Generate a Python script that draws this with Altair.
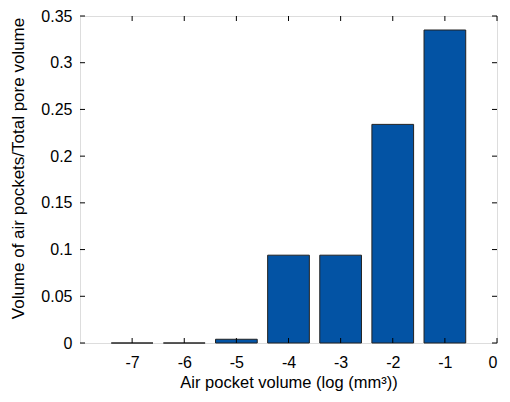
import altair as alt
import pandas as pd

# ---- data ----
bins = [-7, -6, -5, -4, -3, -2, -1]
fractions = [0.0, 0.0, 0.004, 0.094, 0.094, 0.234, 0.335]
x_ticks = [-7, -6, -5, -4, -3, -2, -1, 0]
y_ticks = [0, 0.05, 0.1, 0.15, 0.2, 0.25, 0.3, 0.35]
x_title = "Air pocket volume (log (mm³))"
y_title = "Volume of air pockets/Total pore volume"

bar_width = 0.8
W, H = 417, 327
FONT = "Liberation Sans"
TICK_LEN = 5

bars_df = pd.DataFrame({"bin": bins, "frac": fractions})
xt_df = pd.DataFrame({"v": x_ticks})
yt_df = pd.DataFrame({"v": y_ticks})

xscale = alt.Scale(domain=[-8, 0], nice=False, zero=False)
yscale = alt.Scale(domain=[0, 0.35], nice=False)

xaxis = alt.Axis(
    values=x_ticks, title=x_title, labelExpr="toString(datum.value)",
    ticks=False, tickSize=0, domain=False, grid=False,
    labelPadding=11, labelFontSize=16, labelColor="black", labelFont=FONT,
    titleFontSize=16.5, titleFont=FONT, titleFontWeight="normal", titleColor="black",
    titleY=44, titleBaseline="alphabetic",
)
yaxis = alt.Axis(
    values=y_ticks, title=y_title, format="~g",
    ticks=False, tickSize=0, domain=False, grid=False,
    labelPadding=8, labelFontSize=16, labelColor="black", labelFont=FONT,
    titleFontSize=17, titleFont=FONT, titleFontWeight="normal", titleColor="black",
    titleX=-57, titleY=152, titleBaseline="alphabetic",
)

bars = alt.Chart(bars_df).transform_calculate(
    lo=f"datum.bin - {bar_width / 2}", hi=f"datum.bin + {bar_width / 2}", base="0"
).mark_bar(fill="#0353A4", stroke="#222222", strokeWidth=1).encode(
    x=alt.X("lo:Q", scale=xscale, axis=xaxis),
    x2="hi:Q",
    y=alt.Y("frac:Q", scale=yscale, axis=yaxis),
    y2="base:Q",
)

xt_bottom = alt.Chart(xt_df).mark_rule(color="black", strokeWidth=1).encode(
    x=alt.X("v:Q", scale=xscale, axis=xaxis),
    y=alt.value(H), y2=alt.value(H - TICK_LEN),
)
xt_top = alt.Chart(xt_df).mark_rule(color="black", strokeWidth=1).encode(
    x=alt.X("v:Q", scale=xscale, axis=xaxis),
    y=alt.value(0), y2=alt.value(TICK_LEN),
)
yt_left = alt.Chart(yt_df).mark_rule(color="black", strokeWidth=1).encode(
    y=alt.Y("v:Q", scale=yscale, axis=yaxis),
    x=alt.value(0), x2=alt.value(TICK_LEN),
)
yt_right = alt.Chart(yt_df).mark_rule(color="black", strokeWidth=1).encode(
    y=alt.Y("v:Q", scale=yscale, axis=yaxis),
    x=alt.value(W), x2=alt.value(W - TICK_LEN),
)

chart = alt.layer(bars, xt_bottom, xt_top, yt_left, yt_right).properties(
    width=W, height=H,
    autosize=alt.AutoSizeParams(type="none"),
    padding={"left": 72, "top": 8, "right": 5, "bottom": 59},
    background="white",
).configure_view(stroke="black", strokeWidth=1).configure(font=FONT)

chart.save("out.html", embed_options={"renderer": "svg", "actions": False})
